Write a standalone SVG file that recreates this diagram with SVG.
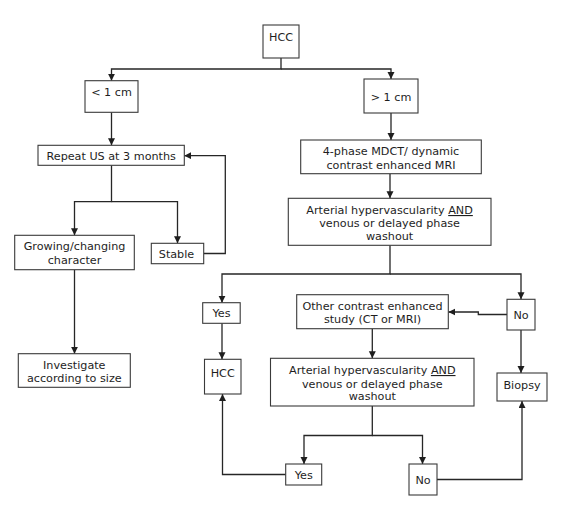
<svg xmlns="http://www.w3.org/2000/svg" width="564" height="508" viewBox="0 0 564 508">
<style>
.box{fill:#fff;stroke:#3a3a3a;stroke-width:1.1}
.t{font-family:"DejaVu Sans","Verdana",sans-serif;font-size:11.2px;fill:#1e1e1e;text-anchor:middle}
.c{fill:none;stroke:#262626;stroke-width:1.3}
.ca{fill:none;stroke:#262626;stroke-width:1.3;marker-end:url(#ah)}
</style>
<defs>
<marker id="ah" markerUnits="userSpaceOnUse" markerWidth="8" markerHeight="8" refX="7" refY="3.5" orient="auto">
<path d="M0,0 L7,3.5 L0,7 z" fill="#1e1e1e"/>
</marker>
</defs>
<rect width="564" height="508" fill="#fff"/>
<g id="connectors">
<path class="ca" d="M281,58 V69 H111.5 V80.7"/>
<path class="ca" d="M281,69 H391 V79"/>
<path class="ca" d="M111.5,112.3 V145.3"/>
<path class="ca" d="M391,113 V140"/>
<path class="ca" d="M390,173.7 V198.3"/>
<path class="ca" d="M111.5,165.3 V201.7 H74.5 V235.3"/>
<path class="ca" d="M111.5,201.7 H177.5 V243.3"/>
<path class="ca" d="M203.7,253.5 H225.3 V155.7 H184.3"/>
<path class="ca" d="M74.5,269.7 V353.7"/>
<path class="ca" d="M390,245.3 V274 H222 V302.7"/>
<path class="ca" d="M390,274 H521 V299.3"/>
<path class="ca" d="M507,314.5 H478.3 V312 H448.3"/>
<path class="ca" d="M222,323.3 V359.3"/>
<path class="ca" d="M372.3,328.7 V358.3"/>
<path class="ca" d="M521,330 V373"/>
<path class="ca" d="M372.3,406 V435.5 H304 V464"/>
<path class="ca" d="M372.3,435.5 H422.5 V464"/>
<path class="ca" d="M285.7,474.5 H222.5 V394"/>
<path class="ca" d="M437,479.5 H522 V401"/>
</g>
<g id="hcc-top">
<rect class="box" x="263" y="25" width="36" height="33"/>
<text class="t" x="281" y="41">HCC</text>
</g>
<g id="lt1cm">
<rect class="box" x="85" y="80.7" width="53" height="31.6"/>
<text class="t" x="111.5" y="96">&lt; 1 cm</text>
</g>
<g id="gt1cm">
<rect class="box" x="364" y="79" width="54" height="34"/>
<text class="t" x="391" y="101">&gt; 1 cm</text>
</g>
<g id="repeat-us">
<rect class="box" x="38" y="145.3" width="146.3" height="20"/>
<text class="t" x="111.2" y="159.8">Repeat US at 3 months</text>
</g>
<g id="phase4">
<rect class="box" x="300.7" y="140" width="180.6" height="33.7"/>
<text class="t" x="391" y="155">4-phase MDCT/ dynamic</text>
<text class="t" x="391" y="168.5">contrast enhanced MRI</text>
</g>
<g id="arterial1">
<rect class="box" x="288.3" y="198.3" width="202.7" height="47"/>
<text class="t" x="389.6" y="214">Arterial hypervascularity <tspan style="text-decoration:underline">AND</tspan></text>
<text class="t" x="389.6" y="227">venous or delayed phase</text>
<text class="t" x="389.6" y="240">washout</text>
</g>
<g id="growing">
<rect class="box" x="14.7" y="235.3" width="119.6" height="34.4"/>
<text class="t" x="74.5" y="250">Growing/changing</text>
<text class="t" x="74.5" y="264">character</text>
</g>
<g id="stable">
<rect class="box" x="151.3" y="243.3" width="52.4" height="20.4"/>
<text class="t" x="176.5" y="258">Stable</text>
</g>
<g id="investigate">
<rect class="box" x="18.3" y="353.7" width="112" height="33.6"/>
<text class="t" x="74.3" y="368.7">Investigate</text>
<text class="t" x="74.3" y="381.5">according to size</text>
</g>
<g id="yes1">
<rect class="box" x="202.7" y="302.7" width="37.5" height="20.6"/>
<text class="t" x="221.5" y="317.3">Yes</text>
</g>
<g id="other-study">
<rect class="box" x="296.7" y="294.7" width="151.6" height="34"/>
<text class="t" x="372.5" y="309.8">Other contrast enhanced</text>
<text class="t" x="372.5" y="323.3">study (CT or MRI)</text>
</g>
<g id="no1">
<rect class="box" x="507" y="299.3" width="28" height="30.7"/>
<text class="t" x="521" y="318.5">No</text>
</g>
<g id="hcc2">
<rect class="box" x="204.5" y="359.3" width="36.5" height="34.7"/>
<text class="t" x="222.7" y="377.4">HCC</text>
</g>
<g id="arterial2">
<rect class="box" x="270.5" y="358.3" width="203.5" height="47.7"/>
<text class="t" x="372.3" y="374">Arterial hypervascularity <tspan style="text-decoration:underline">AND</tspan></text>
<text class="t" x="372.3" y="387.5">venous or delayed phase</text>
<text class="t" x="372.3" y="400.3">washout</text>
</g>
<g id="biopsy">
<rect class="box" x="497" y="373" width="50" height="28"/>
<text class="t" x="522" y="388.5">Biopsy</text>
</g>
<g id="yes2">
<rect class="box" x="285.7" y="464" width="36" height="21"/>
<text class="t" x="303.7" y="479">Yes</text>
</g>
<g id="no2">
<rect class="box" x="409" y="464" width="28" height="31"/>
<text class="t" x="423" y="484">No</text>
</g>
</svg>
